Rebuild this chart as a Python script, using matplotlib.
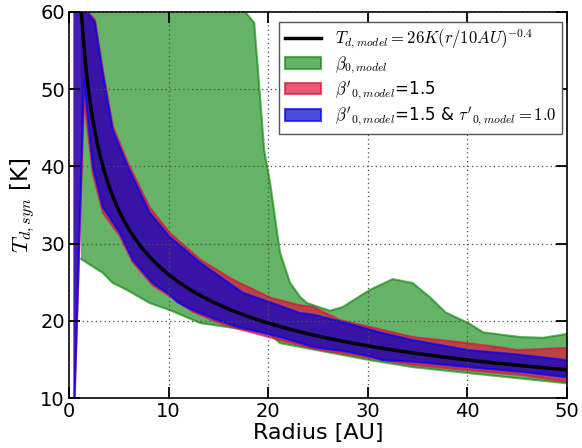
import numpy as np
import matplotlib
matplotlib.use("Agg")
import matplotlib.pyplot as plt
from matplotlib.patches import Patch
from matplotlib.lines import Line2D

plt.rcParams['mathtext.fontset'] = 'cm'
plt.rcParams['font.family'] = ['DejaVu Sans']

# ---- data ----
# green band: beta_0,model
green_up_r = [1.2, 10.0, 17.0, 17.7, 18.6, 19.6, 20.2, 20.9, 21.2, 22.2, 22.5, 23.2, 23.9, 26.2,
              27.5, 30.2, 32.5, 34.5, 36.2, 37.8, 40.1, 41.6, 45.3, 47.6, 50.0]
green_up_T = [70.0, 70.0, 62.0, 60.0, 58.6, 42.1, 37.8, 31.4, 28.8, 24.9, 24.4, 23.1, 22.3, 21.3,
              21.8, 24.0, 25.4, 24.9, 23.1, 21.1, 19.7, 18.5, 17.9, 17.8, 18.3]
green_lo_r = [1.2, 3.4, 4.4, 5.8, 8.1, 10.1, 13.2, 20.0, 21.2, 30.2, 34.5, 40.3, 50.0]
green_lo_T = [28.0, 26.2, 24.9, 24.0, 22.3, 21.4, 19.7, 18.4, 17.1, 14.9, 14.0, 13.2, 11.9]

# red band: beta'_0,model = 1.5
red_up_r = [0.45, 1.6, 2.6, 3.4, 4.4, 5.9, 8.1, 10.1, 13.2, 16.5, 20.2, 23.2, 24.5, 27.2,
            30.2, 34.5, 40.1, 43.6, 45.0, 50.0]
red_up_T = [70.0, 60.5, 59.0, 52.5, 45.2, 40.5, 34.7, 31.4, 27.9, 25.3, 23.0, 22.0, 21.8, 20.1,
            19.2, 17.9, 17.1, 16.5, 16.2, 16.5]
red_lo_r = [0.45, 1.5, 2.4, 3.4, 5.1, 6.4, 8.4, 10.1, 12.4, 14.9, 16.9, 21.2, 24.5, 27.9,
            30.2, 34.5, 40.1, 45.3, 50.0]
red_lo_T = [5.0, 48.6, 39.0, 34.0, 31.0, 27.6, 24.6, 23.2, 21.2, 19.8, 19.0, 17.5, 16.4, 15.7,
            15.2, 14.3, 13.6, 13.0, 12.1]

# blue band: beta'_0,model = 1.5 & tau'_0,model = 1.0
blue_up_r = [0.45, 1.6, 2.6, 3.4, 4.4, 5.9, 8.1, 10.1, 13.2, 17.5, 20.2, 23.2, 24.5, 27.9,
             31.2, 34.5, 40.1, 45.3, 50.0]
blue_up_T = [70.0, 60.3, 58.7, 52.0, 44.7, 40.0, 34.0, 30.9, 27.5, 23.6, 22.4, 21.0, 20.8, 19.7,
             18.5, 17.5, 16.2, 15.6, 14.9]
blue_lo_r = [0.45, 1.5, 2.4, 3.4, 5.1, 6.4, 8.4, 10.1, 10.9, 12.4, 14.9, 16.9, 21.2, 24.5,
             27.9, 30.2, 31.5, 34.5, 40.1, 45.3, 50.0]
blue_lo_T = [5.0, 51.2, 39.9, 34.7, 31.4, 27.9, 24.9, 23.4, 22.4, 21.4, 20.1, 19.2, 17.9, 16.6,
             16.0, 15.4, 14.9, 14.7, 14.0, 13.4, 12.7]

# model curve: T = 26 K (r / 10 AU)^-0.4
model_T0 = 26.0
model_r0 = 10.0
model_q = -0.4
model_r = np.linspace(1.0, 50.0, 300)

xticks = [0, 10, 20, 30, 40, 50]
yticks = [10, 20, 30, 40, 50, 60]

# ---- plot ----
fig = plt.figure(figsize=(5.82, 4.48), dpi=100)
ax = fig.add_axes([69/582, 50/448, (567-69)/582, (398-12)/448])

def band(ax, ru, tu, rl, tl, fc, ec, alpha):
    xs = np.concatenate([ru, rl[::-1]])
    ys = np.concatenate([tu, tl[::-1]])
    ax.fill(xs, ys, facecolor=fc, edgecolor='none', alpha=alpha, zorder=2)
    ax.plot(xs, ys, color=ec, lw=1.5, alpha=alpha, zorder=2)

green_fc = 'green'
red_fc = 'crimson'
blue_fc = 'mediumblue'
band(ax, np.array(green_up_r), np.array(green_up_T), np.array(green_lo_r), np.array(green_lo_T),
     green_fc, green_fc, 0.6)
band(ax, np.array(red_up_r), np.array(red_up_T), np.array(red_lo_r), np.array(red_lo_T),
     red_fc, red_fc, 0.7)
band(ax, np.array(blue_up_r), np.array(blue_up_T), np.array(blue_lo_r), np.array(blue_lo_T),
     blue_fc, 'blue', 0.7)

ax.plot(model_r, model_T0 * (model_r / model_r0) ** model_q, color='black', lw=2.5, zorder=4)

ax.set_xlim(0, 50)
ax.set_ylim(10, 60)
ax.set_xticks(xticks)
ax.set_yticks(yticks)
ax.tick_params(direction='in', top=True, right=True, length=8, width=1.3, labelsize=14, pad=3)
ax.grid(True, linestyle=(0, (1, 2.5)), color='0.3', lw=0.9)
for s in ax.spines.values():
    s.set_linewidth(1.2)
ax.set_axisbelow(False)

ax.set_xlabel('Radius [AU]', fontsize=16, labelpad=1)
ax.set_ylabel(r'$T_{d,syn}$ [K]', fontsize=16.5, labelpad=2)

handles = [
    Line2D([0], [0], color='black', lw=2.5),
    Patch(facecolor=green_fc, edgecolor=green_fc, alpha=0.6, lw=1.5),
    Patch(facecolor=red_fc, edgecolor=red_fc, alpha=0.7, lw=1.5),
    Patch(facecolor=blue_fc, edgecolor='blue', alpha=0.7, lw=1.5),
]
labels = [
    r'$T_{d,model}=26K(r/10AU)^{-0.4}$',
    r'$\beta_{0,model}$',
    r"$\beta'_{0,model}$=1.5",
    r"$\beta'_{0,model}$=1.5 & $\tau'_{0,model}=1.0$",
]
leg = ax.legend(handles, labels, loc='upper right', fontsize=12, fancybox=False,
                framealpha=1.0, edgecolor='#555555', borderaxespad=0.0,
                bbox_to_anchor=(0.990, 0.974), borderpad=0.35,
                handlelength=2.2, labelspacing=0.2)
leg.set_zorder(10)
leg.get_frame().set_linewidth(1.0)

fig.savefig('out.png', dpi=100)
